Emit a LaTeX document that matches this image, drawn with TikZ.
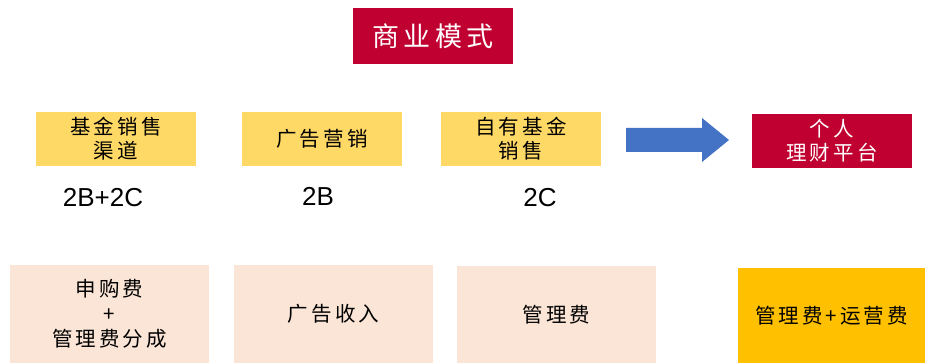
\documentclass[tikz,border=0pt]{standalone}
\usepackage{fontspec}
\setmainfont{Liberation Sans}
\newfontfamily\cjk[LetterSpace=15]{Noto Sans CJK SC}
\newfontfamily\cjktitle[LetterSpace=15]{Noto Sans CJK SC}
\definecolor{crimson}{RGB}{192,0,48}
\definecolor{gold}{RGB}{255,217,102}
\definecolor{peach}{RGB}{251,229,214}
\definecolor{amber}{RGB}{255,192,0}
\definecolor{arrowblue}{RGB}{68,114,196}
\tikzset{
  box/.style={rectangle, inner sep=0pt, align=center, font=\cjk\fontsize{20.5}{24}\selectfont},
  topbox/.style={box, fill=gold, minimum width=160pt, minimum height=54pt},
  redbox/.style={box, fill=crimson, text=white},
  botbox/.style={box, fill=peach, minimum width=199pt, minimum height=98pt, font=\cjk\fontsize{20.5}{25}\selectfont},
  lbl/.style={inner sep=0pt, font=\fontsize{26}{30}\selectfont}
}
\begin{document}
\begin{tikzpicture}[x=1pt,y=-1pt]
\useasboundingbox (0,0) rectangle (925,363);
\node[redbox, minimum width=160pt, minimum height=56pt, font=\cjktitle\fontsize{27}{30}\selectfont] (title) at (433,36) {商业模式};
\node[topbox] (t1) at (116,139) {基金销售\\渠道};
\node[topbox] (t2) at (322,139) {广告营销};
\node[topbox] (t3) at (521,139) {自有基金\\销售};
\node[redbox, minimum width=160pt, minimum height=54pt] (t4) at (832,141) {个人\\理财平台};
\fill[arrowblue] (626,128) -- (702,128) -- (702,118) -- (729,140) -- (702,162) -- (702,152) -- (626,152) -- cycle;
\node[lbl] (l1) at (103,198) {2B+2C};
\node[lbl] (l2) at (318,196) {2B};
\node[lbl] (l3) at (540,198) {2C};
\node[botbox] (b1) at (109.5,314) {申购费\\+\\管理费分成};
\node[botbox] (b2) at (333.5,314) {广告收入};
\node[botbox] (b3) at (556.5,314.5) {管理费};
\node[botbox, fill=amber, minimum width=187pt, minimum height=95pt] (b4) at (831.5,315.5) {管理费+运营费};
\end{tikzpicture}
\end{document}
